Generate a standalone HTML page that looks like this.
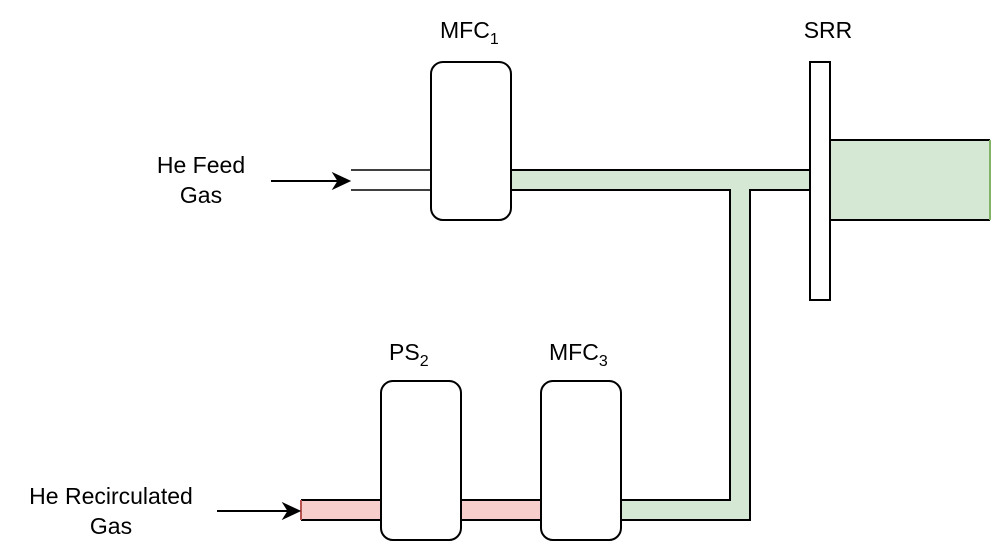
<!DOCTYPE html>
<html><head><style>html,body{margin:0;padding:0;background:#fff;}svg{display:block}</style></head>
<body>
<svg width="994" height="550" viewBox="0 0 994 550" xmlns="http://www.w3.org/2000/svg" font-family="Liberation Sans, Arial, sans-serif" font-size="23">
<path d="M511,170 H810 V190 H750 V520 H621 V500 H730 V190 H511 Z" fill="#d5e8d4" stroke="none"/>
<path d="M511,170 H810 M511,190 H730 V500 H621 M810,190 H750 V520 H621" fill="none" stroke="#000" stroke-width="2"/>
<rect x="830" y="140" width="160" height="80" fill="#d5e8d4"/>
<path d="M830,140 H990 M830,220 H990" stroke="#000" stroke-width="2"/>
<path d="M990,140 V220" stroke="#82b366" stroke-width="2"/>
<rect x="810" y="62" width="20" height="238" fill="#fff" stroke="#000" stroke-width="2"/>
<path d="M351,170 H431 M351,190 H431" stroke="#000" stroke-width="1.5"/>
<path d="M271,181 H338" stroke="#000" stroke-width="2"/>
<path d="M350,181 L333,173 L338,181 L333,189 Z" fill="#000" stroke="#000"/>
<rect x="431" y="62" width="80" height="158" rx="12" fill="#fff" stroke="#000" stroke-width="2"/>
<rect x="301" y="500" width="80" height="20" fill="#f8cecc"/>
<rect x="461" y="500" width="80" height="20" fill="#f8cecc"/>
<path d="M301,500 H541 M301,520 H541" stroke="#000" stroke-width="2"/>
<path d="M301,500 V520" stroke="#b85450" stroke-width="2"/>
<path d="M217,511 H288" stroke="#000" stroke-width="2"/>
<path d="M300,511 L283,503 L288,511 L283,519 Z" fill="#000" stroke="#000"/>
<rect x="381" y="381" width="80" height="159" rx="12" fill="#fff" stroke="#000" stroke-width="2"/>
<rect x="541" y="381" width="80" height="159" rx="12" fill="#fff" stroke="#000" stroke-width="2"/>
<text x="440" y="38">MFC<tspan font-size="16" dy="6">1</tspan></text>
<text x="828" y="38" text-anchor="middle">SRR</text>
<text x="389" y="360">PS<tspan font-size="16" dy="6">2</tspan></text>
<text x="549" y="360">MFC<tspan font-size="16" dy="6">3</tspan></text>
<text x="201" y="173" text-anchor="middle">He Feed</text>
<text x="201" y="203" text-anchor="middle">Gas</text>
<text x="111" y="504" text-anchor="middle">He Recirculated</text>
<text x="111" y="534" text-anchor="middle">Gas</text>
</svg>
</body></html>
